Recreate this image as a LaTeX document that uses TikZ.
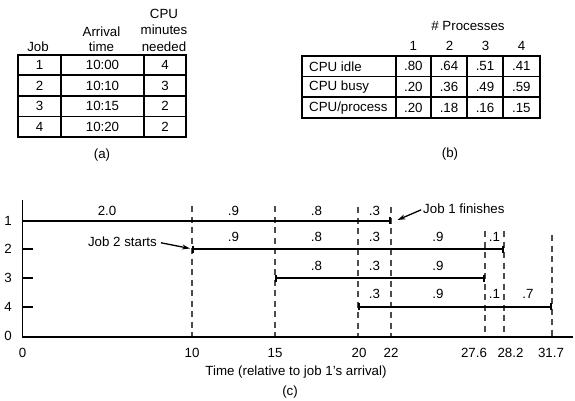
\documentclass[tikz,border=0pt]{standalone}
\usepackage{fontspec}
\setmainfont{Liberation Sans}
\usetikzlibrary{arrows.meta}
\begin{document}
\begin{tikzpicture}[x=1pt,y=-1pt,
 txt/.style={inner sep=0pt, font=\fontsize{13.3}{15}\selectfont},
 grid/.style={line width=1.6pt},
 guide/.style={dash pattern=on 6pt off 4.5pt, line width=1.2pt, black!70},
 seg/.style={line width=1.6pt, {Bar[width=7pt]}-{Bar[width=7pt]}},
 segr/.style={line width=1.6pt, -{Bar[width=7pt]}},
 axis/.style={line width=1.6pt},
 call/.style={line width=1.3pt, -{Stealth[length=8pt,width=5pt]}}]
\useasboundingbox (0,0) rectangle (575,401);

% ---------- Table (a) ----------
\draw[grid] (18,55) rectangle (186,136.7);
\foreach \y in {75.3,96,116.7} \draw[grid] (18,\y) -- (186,\y);
\foreach \x in {61,144} \draw[grid] (\x,55) -- (\x,136.7);
\node[txt] (ahjob) at (38,47) {Job};
\node[txt] (ahar1) at (101.5,32) {Arrival};
\node[txt] (ahar2) at (101.5,47) {time};
\node[txt] (ahcpu1) at (164,14) {CPU};
\node[txt] (ahcpu2) at (164,30) {minutes};
\node[txt] (ahcpu3) at (164,47) {needed};
\foreach \i/\y/\t/\m in {1/65.2/10:00/4, 2/85.7/10:10/3, 3/106.3/10:15/2, 4/126.7/10:20/2} {
  \node[txt] (aj\i) at (39.5,\y) {\i};
  \node[txt] (at\i) at (102.5,\y) {\t};
  \node[txt] (am\i) at (165,\y) {\m};
}
\node[txt] (alab) at (102,155) {(a)};

% ---------- Table (b) ----------
\draw[grid] (301.7,56) rectangle (540,118.3);
\foreach \y in {76.7,97.3} \draw[grid] (301.7,\y) -- (540,\y);
\foreach \x in {396,430.7,466.7,502.7} \draw[grid] (\x,56) -- (\x,118.3);
\node[txt] (bhead) at (468,26) {\# Processes};
\foreach \i/\x in {1/413.3,2/449.5,3/485.5,4/521.5} \node[txt] (bc\i) at (\x,46) {\i};
\node[txt, anchor=west] (br1) at (309,66.3) {CPU idle};
\node[txt, anchor=west] (br2) at (309,87) {CPU busy};
\node[txt, anchor=west] (br3) at (309,107.8) {CPU/process};
\foreach \r/\y/\a/\b/\c/\d in {1/66.3/.80/.64/.51/.41, 2/87/.20/.36/.49/.59, 3/107.8/.20/.18/.16/.15} {
  \node[txt] (bv\r a) at (413.3,\y) {\a};
  \node[txt] (bv\r b) at (449,\y) {\b};
  \node[txt] (bv\r c) at (485,\y) {\c};
  \node[txt] (bv\r d) at (521.3,\y) {\d};
}
\node[txt] (blab) at (450,154) {(b)};

% ---------- Chart (c) ----------
\coordinate (o) at (22.5,336.7);
\coordinate (ytop) at (22.5,200);
\coordinate (xend) at (573,336.7);
% dashed guides
\foreach \n/\x/\top in {d10/192/206, d15/275/206, d20/358/207, d22/391/207, d276/485/231, d282/504/231, d317/552/235} {
  \coordinate (\n t) at (\x,\top);
  \coordinate (\n b) at (\x,336.7);
  \draw[guide] (\n t) -- (\n b);
}
\draw[axis] (ytop) -- (o) -- (xend);
% row labels and ticks
\node[txt] (yl1) at (8,220.7) {1};
\node[txt] (yl2) at (8,249) {2};
\node[txt] (yl3) at (8,278) {3};
\node[txt] (yl4) at (8,306.7) {4};
\node[txt] (yl0) at (8,336) {0};
\foreach \k/\y in {2/249,3/278,4/306.7} {
  \coordinate (tka\k) at (22.5,\y);
  \coordinate (tkb\k) at (33,\y);
  \draw[axis] (tka\k) -- (tkb\k);
}
% x tick labels
\foreach \n/\x/\t in {x0/22.5/0, x10/192/10, x15/275/15, x20/359/20, x22/391/22, x276/474/27.6, x282/510.5/28.2, x317/551/31.7}
  \node[txt] (\n) at (\x,352.7) {\t};
\node[txt] (xlab) at (296,371.7) {Time (relative to job 1's arrival)};
\node[txt] (clab) at (290,392) {(c)};

% job segments
\coordinate (r1s) at (22.5,220.7);  \coordinate (r1e) at (391,220.7);
\coordinate (r2s) at (192,249);     \coordinate (r2e) at (504,249);
\coordinate (r3s) at (275,278);     \coordinate (r3e) at (485,278);
\coordinate (r4s) at (358,306.7);   \coordinate (r4e) at (552,306.7);
\draw[segr] (r1s) -- (r1e);
\draw[seg] (r2s) -- (r2e);
\draw[seg] (r3s) -- (r3e);
\draw[seg] (r4s) -- (r4e);

% segment labels
\foreach \n/\x/\y/\t in {
  l1a/107/210.5/2.0, l1b/233.5/210.5/.9, l1c/316.5/210.5/.8, l1d/374.5/210.5/.3,
  l2b/233.5/237/.9, l2c/316.5/237/.8, l2d/374.5/237/.3, l2e/438/237/.9, l2f/494.5/237/.1,
  l3c/316.5/266/.8, l3d/374.5/266/.3, l3e/438/266/.9,
  l4d/374.5/294/.3, l4e/438/294/.9, l4f/494.5/294/.1, l4g/528/294/.7}
  \node[txt] (\n) at (\x,\y) {\t};

% callouts
\node[txt, anchor=west] (fin) at (423,209) {Job 1 finishes};
\coordinate (finTip) at (397.5,220);
\draw[call, shorten <=2pt] (fin.west) -- (finTip);
\node[txt, anchor=east] (st) at (157,242) {Job 2 starts};
\coordinate (stTip) at (190,248.5);
\draw[call, shorten <=4pt] (st.east) -- (stTip);
\end{tikzpicture}
\end{document}
